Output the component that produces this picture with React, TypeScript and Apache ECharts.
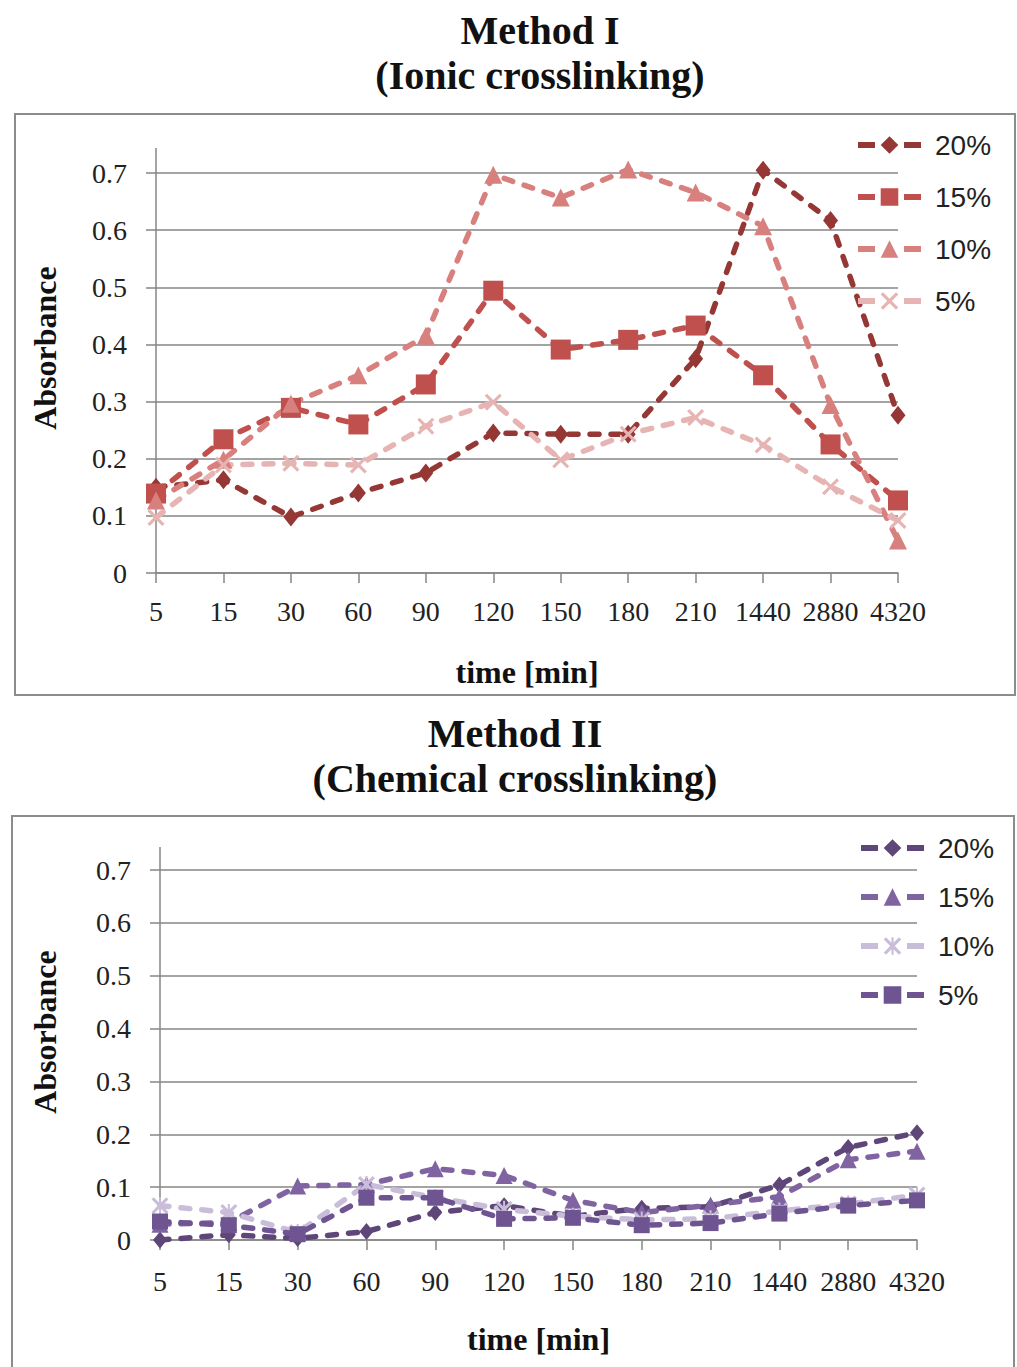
import React, { useEffect, useRef } from 'react';
import * as echarts from 'echarts';

const times = ['5', '15', '30', '60', '90', '120', '150', '180', '210', '1440', '2880', '4320'];
const yTicks = [0, 0.1, 0.2, 0.3, 0.4, 0.5, 0.6, 0.7];

// Method I (Ionic crosslinking)
const ionic20 = [0.15, 0.163, 0.098, 0.14, 0.175, 0.245, 0.243, 0.243, 0.375, 0.705, 0.617, 0.276];
const ionic15 = [0.139, 0.234, 0.289, 0.26, 0.33, 0.494, 0.391, 0.408, 0.433, 0.346, 0.225, 0.127];
const ionic10 = [0.127, 0.198, 0.296, 0.346, 0.415, 0.697, 0.657, 0.706, 0.666, 0.607, 0.294, 0.057];
const ionic5 = [0.097, 0.189, 0.192, 0.189, 0.257, 0.299, 0.198, 0.243, 0.272, 0.224, 0.151, 0.092];

// Method II (Chemical crosslinking)
const chem20 = [0.0, 0.01, 0.003, 0.016, 0.052, 0.065, 0.045, 0.06, 0.063, 0.104, 0.175, 0.203];
const chem15 = [0.03, 0.033, 0.102, 0.105, 0.135, 0.122, 0.075, 0.052, 0.066, 0.082, 0.152, 0.168];
const chem10 = [0.065, 0.052, 0.014, 0.105, 0.08, 0.058, 0.045, 0.038, 0.04, 0.055, 0.068, 0.085];
const chem5 = [0.035, 0.028, 0.011, 0.08, 0.08, 0.04, 0.042, 0.028, 0.032, 0.05, 0.065, 0.075];

const labelsI = ['20%', '15%', '10%', '5%'];
const labelsII = ['20%', '15%', '10%', '5%'];

const X_SHAPE = 'path://M0,1.3L1.3,0L5,3.7L8.7,0L10,1.3L6.3,5L10,8.7L8.7,10L5,6.3L1.3,10L0,8.7L3.7,5Z';
const ASTERISK =
  'path://M0,1.3L1.3,0L5,3.7L8.7,0L10,1.3L6.3,5L10,8.7L8.7,10L5,6.3L1.3,10L0,8.7L3.7,5Z M4.4,0L5.6,0L5.6,10L4.4,10Z';

const SERIF = 'Liberation Serif';
const AXIS_GRAY = '#868686';
const TEXT = '#222';

function line(name: string, data: number[], color: string, symbol: string, size: any, idx: number) {
  return {
    type: 'line',
    name,
    data,
    xAxisIndex: idx,
    yAxisIndex: idx,
    symbol,
    symbolSize: size,
    showAllSymbol: true,
    clip: false,
    itemStyle: { color },
    lineStyle: { color, width: 5.5, type: [9, 12], cap: 'round' },
    emphasis: { disabled: true },
  };
}

function xAxis(idx: number, gap: number, margin: number) {
  return {
    type: 'category',
    gridIndex: idx,
    data: times,
    boundaryGap: false,
    axisLine: { lineStyle: { color: AXIS_GRAY, width: 1.5 } },
    axisTick: { show: true, length: 10, lineStyle: { color: AXIS_GRAY, width: 1.5 } },
    axisLabel: { interval: 0, fontFamily: SERIF, fontSize: 28, color: TEXT, margin },
    name: 'time [min]',
    nameLocation: 'middle',
    nameGap: gap,
    nameTextStyle: { fontFamily: SERIF, fontWeight: 'bold', fontSize: 32, color: '#111' },
  };
}

function yAxis(idx: number, gap: number, shift: number) {
  return {
    type: 'value',
    gridIndex: idx,
    min: yTicks[0],
    max: yTicks[yTicks.length - 1],
    interval: 0.1,
    axisLine: { show: true, lineStyle: { color: AXIS_GRAY, width: 1.5 } },
    axisTick: { show: true, length: 10, lineStyle: { color: AXIS_GRAY, width: 1.5 } },
    splitLine: { show: true, lineStyle: { color: AXIS_GRAY, width: 1.5 } },
    axisLabel: {
      fontFamily: SERIF,
      fontSize: 28,
      color: TEXT,
      margin: 29,
      formatter: (v: number) => (Math.abs(v) < 1e-9 ? '0' : v.toFixed(1)),
    },
    name: 'Absorbance',
    nameLocation: 'middle',
    nameGap: gap,
    nameTextStyle: { fontFamily: SERIF, fontWeight: 'bold', fontSize: 32, color: '#111', padding: [0, 0, 0, shift] },
  };
}

function legend(prefix: string, labels: string[], left: number, top: number, gap: number) {
  return {
    orient: 'vertical',
    left,
    top,
    itemWidth: 63,
    itemHeight: 22,
    itemGap: gap,
    selectedMode: false,
    data: labels.map((l) => prefix + l),
    formatter: (n: string) => n.replace(prefix, ''),
    lineStyle: { width: 6, type: [17, 29], cap: 'butt' },
    textStyle: { fontFamily: 'Liberation Sans', fontSize: 28, lineHeight: 28, color: TEXT, padding: [0, 0, 0, 9] },
  };
}

export default function App() {
  const ref = useRef<HTMLDivElement>(null);
  useEffect(() => {
    const chart = echarts.init(ref.current!, null, { renderer: 'svg' });
    const option: any = {
      animation: false,
      backgroundColor: '#fff',
      title: [
        {
          text: 'Method I\n(Ionic crosslinking)',
          left: 540,
          top: 8,
          padding: 0,
          textAlign: 'center',
          textStyle: { fontFamily: SERIF, fontWeight: 'bold', fontSize: 40, lineHeight: 45, color: '#111' },
        },
        {
          text: 'Method II\n(Chemical crosslinking)',
          left: 515,
          top: 711,
          padding: 0,
          textAlign: 'center',
          textStyle: { fontFamily: SERIF, fontWeight: 'bold', fontSize: 40, lineHeight: 45, color: '#111' },
        },
      ],
      grid: [
        { left: 156, top: 173, width: 742, height: 400 },
        { left: 160, top: 870, width: 757, height: 370 },
      ],
      xAxis: [xAxis(0, 83, 24), xAxis(1, 83, 27)],
      yAxis: [yAxis(0, 95, 50), yAxis(1, 99, 46)],
      legend: [legend('I ', labelsI, 850, 126, 24), legend('II ', labelsII, 853, 829, 21)],
      graphic: [
        { type: 'rect', shape: { x: 15, y: 114, width: 1000, height: 581 }, style: { fill: 'none', stroke: '#8c8c8c', lineWidth: 2 }, z: -1 },
        { type: 'rect', shape: { x: 12, y: 816, width: 1002, height: 600 }, style: { fill: 'none', stroke: '#8c8c8c', lineWidth: 2 }, z: -1 },
        { type: 'line', shape: { x1: 156, y1: 148, x2: 156, y2: 173 }, style: { stroke: AXIS_GRAY, lineWidth: 1.5 } },
        { type: 'line', shape: { x1: 160, y1: 847, x2: 160, y2: 870 }, style: { stroke: AXIS_GRAY, lineWidth: 1.5 } },
      ],
      series: [
        line('I 20%', ionic20, '#953735', 'diamond', [15, 19], 0),
        line('I 15%', ionic15, '#c0504d', 'rect', 20, 0),
        line('I 10%', ionic10, '#d8807e', 'triangle', 18, 0),
        line('I 5%', ionic5, '#e6b4b3', X_SHAPE, 17, 0),
        line('II 20%', chem20, '#5f4679', 'diamond', [14, 17], 1),
        line('II 15%', chem15, '#8064a2', 'triangle', 17, 1),
        line('II 10%', chem10, '#c9bdd9', ASTERISK, 17, 1),
        line('II 5%', chem5, '#6e5591', 'rect', 16, 1),
      ],
    };
    chart.setOption(option);
    return () => chart.dispose();
  }, []);
  return (
    <div
      ref={ref}
      style={{ position: 'absolute', left: 0, top: 0, width: 1017, height: 1367, background: '#fff' }}
    />
  );
}
